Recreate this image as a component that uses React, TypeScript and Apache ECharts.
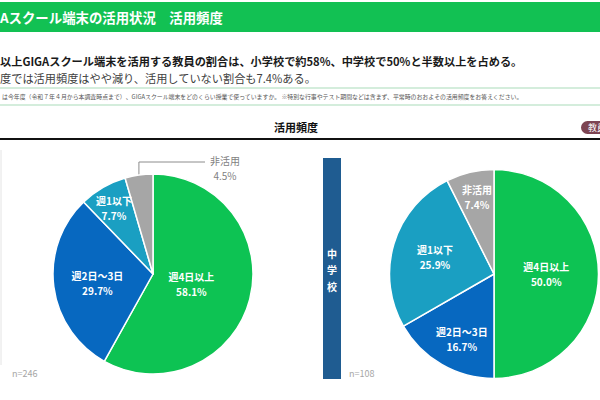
import React, { useEffect, useRef } from "react";
import * as echarts from "echarts";

const categories = ["週4日以上", "週2日～3日", "週1以下", "非活用"];
const elementaryValues = [58.1, 29.7, 7.7, 4.5];
const juniorValues = [50.0, 16.7, 25.9, 7.4];
const sliceColors = ["#0dc353", "#0768c0", "#1a9fc2", "#a6a6a6"];

const titleText = "Aスクール端末の活用状況　活用頻度";
const leadText =
  "以上GIGAスクール端末を活用する教員の割合は、小学校で約58%、中学校で50%と半数以上を占める。";
const subText = "度では活用頻度はやや減り、活用していない割合も7.4%ある。";
const questionText =
  "は今年度（令和７年４月から本調査時点まで）、GIGAスクール端末をどのくらい授業で使っていますか。 ※特別な行事やテスト期間などは含まず、平常時のおおよその活用頻度をお答えください。";
const chartHeading = "活用頻度";
const badgeText = "教員";
const juniorTag = ["中", "学", "校"];
const nElementary = "n=246";
const nJunior = "n=108";

// pie geometry (layout only)
const pieCenters = [
  [153, 274],
  [494, 274],
];
const pieRadii = [100, 104.5];

// label nudges from the slice's mid-radius point (style only) [series][item] => [dx, dy]
const labelNudges = [
  [[-10, -3], [-6, 3], [-14, -23], [0, 0]],
  [[0, 0], [-6, 20], [-9, -2], [-5, -26]],
];

const FONT = "'Noto Sans CJK JP', 'Noto Sans', sans-serif";

function makeData(values: number[], outsideIndex: number | null) {
  return categories.map((name, i) => {
    const item: any = {
      name,
      value: values[i],
      itemStyle: { color: sliceColors[i] },
    };
    if (i === outsideIndex) {
      item.label = {
        position: "outside",
        color: "#7f7f7f",
        fontWeight: "normal",
      };
      item.labelLine = {
        show: true,
        length: 12,
        length2: 60,
        lineStyle: { color: "#8c8c8c", width: 1 },
      };
    }
    return item;
  });
}

// mid angle (radians, clockwise from 12 o'clock) of slice i
function midAngle(values: number[], i: number) {
  const total = values.reduce((a, b) => a + b, 0);
  let before = 0;
  for (let k = 0; k < i; k++) before += values[k];
  return ((before + values[i] / 2) / total) * Math.PI * 2;
}

export default function App() {
  const ref = useRef<HTMLDivElement>(null);

  useEffect(() => {
    if (!ref.current) return;
    const chart = echarts.init(ref.current, undefined, { renderer: "svg" });

    const pieLabel = {
      show: true,
      position: "inside",
      color: "#ffffff",
      fontSize: 10,
      fontWeight: "bold",
      lineHeight: 15,
      fontFamily: FONT,
      formatter: (p: any) => `${p.name}\n${Number(p.value).toFixed(1)}%`,
    };

    const juniorTagTexts = juniorTag.map((t, i) => ({
      type: "text",
      x: 332,
      y: 253 + i * 16.5,
      style: {
        text: t,
        fill: "#ffffff",
        font: `bold 10px ${FONT}`,
        align: "center",
        verticalAlign: "middle",
      },
    }));

    const allValues = [elementaryValues, juniorValues];

    const makeLayout = (s: number) => (params: any) => {
      const d = params.dataIndex;
      const values = allValues[s];
      const [cx, cy] = pieCenters[s];
      const r = pieRadii[s];
      const a = midAngle(values, d);
      const ux = Math.sin(a);
      const uy = -Math.cos(a);
      if (s === 0 && d === 3) {
        const p0 = [cx + r * ux, cy + r * uy];
        const yTurn = 162;
        const xEnd = 205;
        return {
          x: 225,
          y: 168,
          align: "center",
          verticalAlign: "middle",
          labelLinePoints: [
            [p0[0], p0[1]],
            [p0[0], yTurn],
            [xEnd, yTurn],
          ],
        };
      }
      const n = labelNudges[s][d] || [0, 0];
      return {
        x: cx + (r / 2) * ux + n[0],
        y: cy + (r / 2) * uy + n[1],
        align: "center",
        verticalAlign: "middle",
      };
    };

    chart.setOption({
      animation: false,
      backgroundColor: "#ffffff",
      textStyle: { fontFamily: FONT },
      graphic: [
        { type: "rect", shape: { x: 0, y: 2, width: 600, height: 30 }, style: { fill: "#12c153" } },
        {
          type: "text",
          x: 0,
          y: 17,
          style: { text: titleText, fill: "#ffffff", font: `bold 13.4px ${FONT}`, verticalAlign: "middle" },
        },
        {
          type: "text",
          x: 0,
          y: 61,
          style: { text: leadText, fill: "#1a1a1a", font: `bold 11.2px ${FONT}`, verticalAlign: "middle" },
        },
        {
          type: "text",
          x: 0,
          y: 78,
          style: { text: subText, fill: "#404040", font: `11.2px ${FONT}`, verticalAlign: "middle" },
        },
        {
          type: "rect",
          shape: { x: -5, y: 88, width: 610, height: 17 },
          style: { fill: "#ffffff", stroke: "#a9dbb9", lineWidth: 1 },
        },
        {
          type: "text",
          x: 2,
          y: 96.5,
          style: { text: questionText, fill: "#555555", font: `5.9px ${FONT}`, verticalAlign: "middle" },
        },
        {
          type: "text",
          x: 296,
          y: 127,
          style: { text: chartHeading, fill: "#111111", font: `bold 11px ${FONT}`, align: "center", verticalAlign: "middle" },
        },
        { type: "line", shape: { x1: 0, y1: 139, x2: 600, y2: 139 }, style: { stroke: "#111111", lineWidth: 2 } },
        { type: "rect", shape: { x: 581, y: 121, width: 40, height: 13, r: 6.5 }, style: { fill: "#7d4452" } },
        {
          type: "text",
          x: 588,
          y: 127.5,
          style: { text: badgeText, fill: "#ffffff", font: `9px ${FONT}`, verticalAlign: "middle" },
        },
        { type: "line", shape: { x1: 1, y1: 150, x2: 1, y2: 365 }, style: { stroke: "#e4e4e4", lineWidth: 1 } },
        { type: "rect", shape: { x: 323, y: 158, width: 18, height: 221 }, style: { fill: "#1f5c91" } },
        ...juniorTagTexts,
        {
          type: "text",
          x: 12,
          y: 373,
          style: { text: nElementary, fill: "#a6a6a6", font: `9px ${FONT}`, verticalAlign: "middle" },
        },
        {
          type: "text",
          x: 349,
          y: 373,
          style: { text: nJunior, fill: "#a6a6a6", font: `9px ${FONT}`, verticalAlign: "middle" },
        },
      ],
      series: [0, 1].map((s) => ({
        type: "pie",
        center: pieCenters[s],
        radius: [0, pieRadii[s]],
        startAngle: 90,
        clockwise: true,
        avoidLabelOverlap: false,
        itemStyle: { borderColor: "#ffffff", borderWidth: 1.5 },
        label: pieLabel,
        labelLine: { show: false },
        labelLayout: makeLayout(s),
        data: makeData(allValues[s], s === 0 ? 3 : null),
      })),
    });

    return () => chart.dispose();
  }, []);

  return (
    <div
      ref={ref}
      style={{ position: "fixed", left: 0, top: 0, width: 600, height: 400 }}
    />
  );
}
